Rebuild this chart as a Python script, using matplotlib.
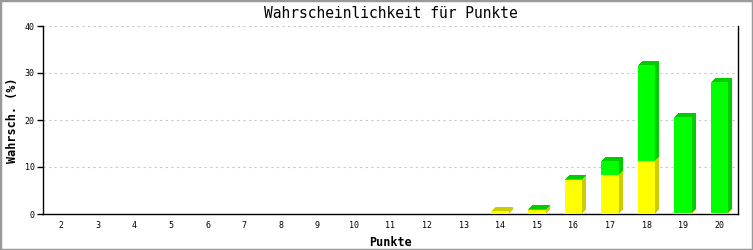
import matplotlib
matplotlib.use("Agg")
import matplotlib.pyplot as plt
from matplotlib.transforms import ScaledTranslation
from matplotlib.patches import Rectangle
import numpy as np

punkte = [str(i) for i in range(2, 21)]
gelb = [0, 0, 0, 0, 0, 0, 0, 0, 0, 0, 0, 0, 0.55, 0.85, 7.3, 8.4, 11.35, 0.15, 0.15]
gruen = [0, 0, 0, 0, 0, 0, 0, 0, 0, 0, 0, 0, 0, 0.25, 0.25, 2.95, 20.45, 20.55, 28.0]
y_ticks = [0, 10, 20, 30, 40]

MONO = "DejaVu Sans Mono"
fig = plt.figure(figsize=(7.53, 2.5), dpi=100)
fig.patch.set_facecolor("white")
ax = fig.add_axes([43/753, 1-214/250, (738-43)/753, (214-26)/250])

x = np.arange(len(punkte))
w = 0.48
gelb_a = np.array(gelb)
gruen_a = np.array(gruen)

def bars3d(vals, bottom, face, side, z):
    for d in [1, 2, 3, 4]:
        tr = ax.transData + ScaledTranslation(d/100, d/100, fig.dpi_scale_trans)
        mask = vals > 0
        ax.bar(x[mask], vals[mask], w, bottom=bottom[mask], color=side,
               transform=tr, zorder=z, linewidth=0)
    mask = vals > 0
    ax.bar(x[mask], vals[mask], w, bottom=bottom[mask], color=face,
           zorder=z + 0.5, linewidth=0)

bars3d(gelb_a, np.zeros_like(gelb_a), "#FFFF00", "#CCCC00", 3)
bars3d(gruen_a, gelb_a, "#00FF00", "#00CC00", 4)

ax.set_xlim(-0.5, len(punkte) - 0.5)
ax.set_ylim(0, 40)
ax.set_xticks(x)
ax.set_xticklabels(punkte, fontsize=6, family=MONO)
ax.set_yticks(y_ticks)
ax.set_yticklabels([str(v) for v in y_ticks], fontsize=6, family=MONO)
ax.tick_params(axis="x", length=0, pad=5)
ax.tick_params(axis="y", direction="out", length=4, width=1, pad=2)
ax.spines["top"].set_visible(False)
for s in ["left", "bottom", "right"]:
    ax.spines[s].set_linewidth(1)
    ax.spines[s].set_color("black")
ax.yaxis.grid(True, linestyle=(0, (2, 3)), color="#C8C8C8", linewidth=0.8)
ax.set_axisbelow(True)

ax.set_title("Wahrscheinlichkeit für Punkte", fontsize=10.5, family=MONO, pad=6)
ax.set_ylabel("Wahrsch. (%)", fontsize=8.5, family=MONO, fontweight="bold", labelpad=4)
ax.set_xlabel("Punkte", fontsize=8.5, family=MONO, fontweight="bold", labelpad=4)

fig.patches.append(Rectangle((0, 0), 1, 1, transform=fig.transFigure, fill=False,
                             edgecolor="#999999", linewidth=2.5, zorder=10))

fig.savefig("out.png", dpi=100, facecolor="white")
